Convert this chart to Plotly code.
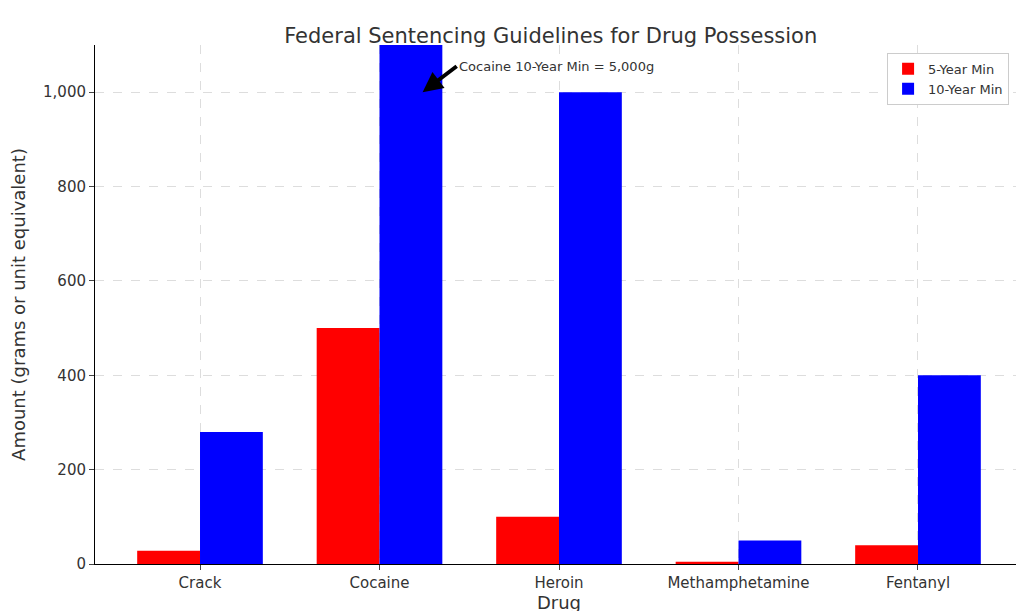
import plotly.graph_objects as go

drugs = ["Crack", "Cocaine", "Heroin", "Methamphetamine", "Fentanyl"]
min5 = [28, 500, 100, 5, 40]
min10 = [280, 5000, 1000, 50, 400]
w = 0.35
xs = list(range(len(drugs)))

fig = go.Figure()
fig.add_bar(x=[i - w/2 for i in xs], y=min5, width=w, name="5-Year Min", marker_color="red", marker_line_width=0)
fig.add_bar(x=[i + w/2 for i in xs], y=min10, width=w, name="10-Year Min", marker_color="blue", marker_line_width=0)

fig.add_annotation(x=1.24, y=1000, ax=1.43, ay=1055, xref="x", yref="y", axref="x", ayref="y",
                   text="Cocaine 10-Year Min = 5,000g", showarrow=True, arrowhead=2, arrowsize=1,
                   arrowwidth=4, arrowcolor="black", xanchor="left", font=dict(size=13, color="#333"))

fig.update_layout(
    width=1024, height=611, template="plotly_white", barmode="overlay",
    font=dict(family="DejaVu Sans", size=15, color="#333"),
    title=dict(text="Federal Sentencing Guidelines for Drug Possession", x=0.53, xanchor="center", y=0.967, font=dict(size=21)),
    margin=dict(l=87, r=9, t=37, b=55),
    legend=dict(x=0.985, y=0.985, xanchor="right", yanchor="top", bordercolor="#ccc", borderwidth=1, font=dict(size=13)),
    plot_bgcolor="white",
)
fig.update_xaxes(range=[-0.585, 4.585], tickvals=xs, ticktext=drugs, title=dict(text="Drug", standoff=2), automargin=False,
                 showline=True, linecolor="black", ticks="outside", showgrid=True, gridcolor="#ddd", griddash="dash", zeroline=False)
fig.update_yaxes(range=[0, 1100], tickvals=[0, 200, 400, 600, 800, 1000], tickformat=",", automargin=False,
                 title=dict(text="Amount (grams or unit equivalent)"), showline=True, linecolor="black", ticks="outside",
                 showgrid=True, gridcolor="#ddd", griddash="dash", zeroline=False)
fig.write_html("out.html")
